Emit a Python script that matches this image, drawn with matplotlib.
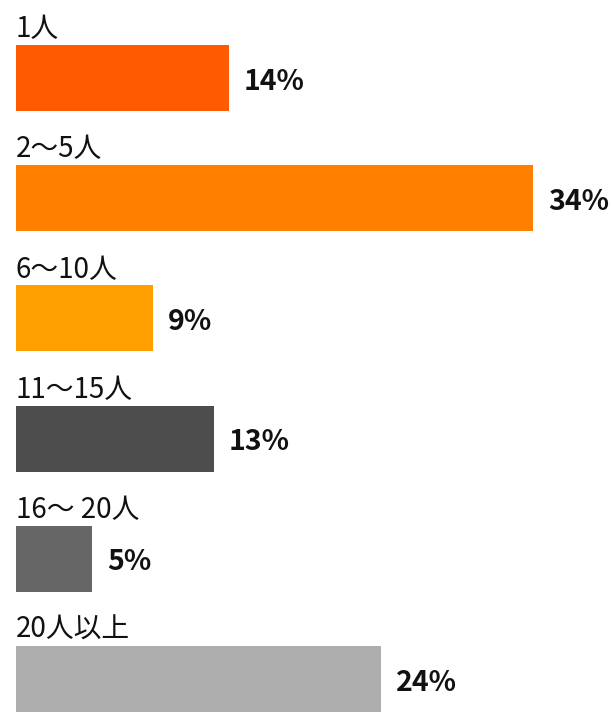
import matplotlib.pyplot as plt

plt.rcParams["font.family"] = ["Noto Sans CJK JP", "DejaVu Sans"]

categories = ["1人", "2〜5人", "6〜10人", "11〜15人", "16〜 20人", "20人以上"]
shares = [14, 34, 9, 13, 5, 24]
colors = ["#FF5A00", "#FF8000", "#FFA000", "#4D4D4D", "#666666", "#AEAEAE"]

W, H = 611, 712
PX_PER_PCT = 15.2   # horizontal pixels per percentage point
PX_PER_ROW = 120.2  # vertical pixels per category row

fig = plt.figure(figsize=(W / 100, H / 100), dpi=100)
ax = fig.add_axes([0, 0, 1, 1])

ys = list(range(len(categories)))
ax.barh(ys, shares, height=0.55, color=colors, left=0)

for y, cat, val in zip(ys, categories, shares):
    ax.text(0, y - 0.275 - 0.065, cat, ha="left", va="baseline",
            fontsize=20, color="#111111")
    ax.text(val + 15 / PX_PER_PCT, y + 0.03, f"{val}%", ha="left", va="center",
            fontsize=20.5, fontweight="bold", color="#111111")

ax.set_xlim(-16 / PX_PER_PCT, (W - 16) / PX_PER_PCT)
ax.set_ylim((H - 78) / PX_PER_ROW, -78 / PX_PER_ROW)
ax.axis("off")

fig.savefig("out.png", dpi=100)
